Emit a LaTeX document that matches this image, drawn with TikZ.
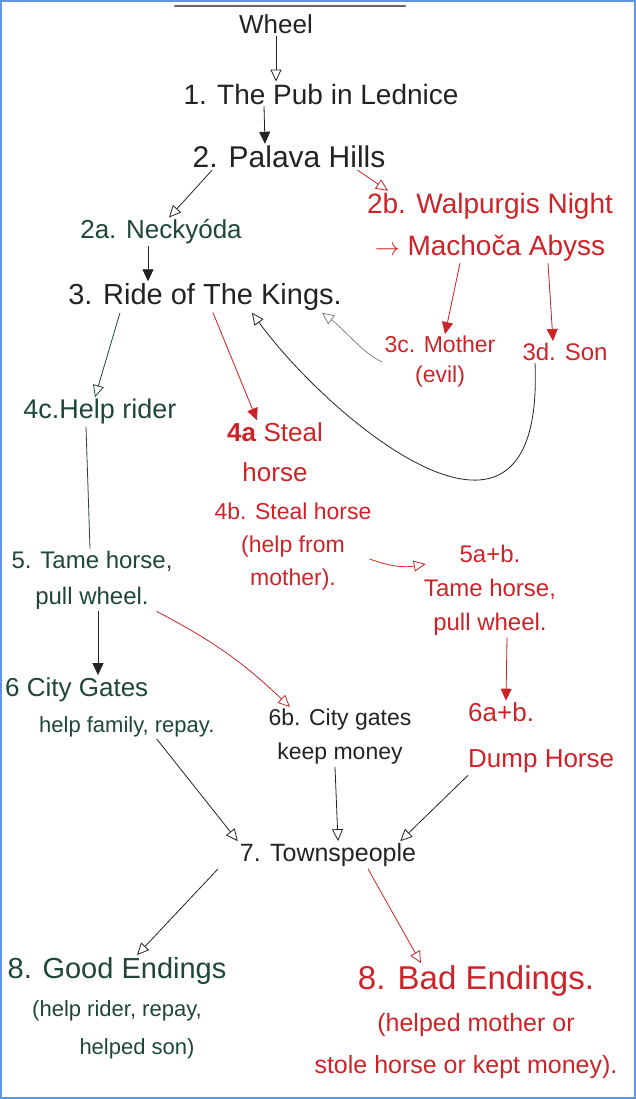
\documentclass[tikz,border=0pt]{standalone}
\usepackage{fontspec}
\setmainfont{Liberation Sans}
\usetikzlibrary{arrows.meta}

\definecolor{ink}{RGB}{35,35,35}
\definecolor{inkgreen}{RGB}{30,70,58}
\definecolor{inkred}{RGB}{205,35,40}
\definecolor{framecol}{RGB}{95,150,220}

\tikzset{
  f/.style args={#1/#2}{font=\fontsize{#1}{#2}\selectfont},
  hand/.style={align=center, inner sep=2pt},
  blk/.style={hand, text=ink},
  grn/.style={hand, text=inkgreen},
  rd/.style={hand, text=inkred},
  arr/.style={line width=0.8pt, draw=ink, -{Triangle[open,length=12pt,width=11pt]}},
  arrf/.style={line width=0.8pt, draw=ink, -{Triangle[length=12pt,width=11pt]}},
  rarr/.style={arr, draw=inkred},
  rarrf/.style={arrf, draw=inkred, fill=inkred},
}

\begin{document}
\begin{tikzpicture}[x=1pt, y=-1pt]
    \useasboundingbox (0,0) rectangle (636,1099);
    \draw[framecol, line width=2pt] (1,1) rectangle (635,1098);
    \draw[gray!80!black, line width=2.5pt, line cap=round] (175,6) -- (405,6);

    % story nodes
    \node[blk, f=26/30] (w) at (276,24) {Wheel};
    \node[blk, f=28/32] (p1) at (321,94) {1. The Pub in Lednice};
    \node[blk, f=30/34] (p2) at (289,157) {2. Palava Hills};
    \node[grn, f=26/30] (n2a) at (161,232) {2a. Neckyóda};
    \node[rd, f=28/42] (n2b) at (490,227) {2b. Walpurgis Night\\$\rightarrow$ Machoča Abyss};
    \node[blk, f=29/32] (n3) at (205,297) {3. Ride of The Kings.};
    \node[rd, f=23/30] (n3c) at (440,362) {3c. Mother\\(evil)};
    \node[rd, f=24/28] (n3d) at (565,352) {3d. Son};
    \node[grn, f=27/30] (n4c) at (100,412) {4c.Help rider};
    \node[rd, f=26/40] (n4a) at (275,452) {\textbf{4a} Steal\\horse};
    \node[rd, f=23/33] (n4b) at (293,547) {4b. Steal horse\\(help from\\mother).};
    \node[rd, f=24/34] (n5ab) at (490,590) {5a+b.\\Tame horse,\\pull wheel.};
    \node[grn, f=24/36] (n5) at (92,580) {5. Tame horse,\\pull wheel.};
    \node[grn, f=26/36, align=left, anchor=west] (n6) at (3,707) {6 City Gates\\\hspace*{34pt}{\fontsize{22}{26}\selectfont help family, repay.}};
    \node[blk, f=23/34] (n6b) at (340,737) {6b. City gates\\keep money};
    \node[rd, f=26/46, align=left, anchor=west] (n6ab) at (466,738) {6a+b.\\Dump Horse};
    \node[blk, f=25/30] (n7) at (328,855) {7. Townspeople};
    \node[grn, f=29/38] (n8g) at (117,1008) {8. Good Endings\\{\fontsize{22}{30}\selectfont (help rider, repay,}\\{\fontsize{22}{30}\selectfont \hspace*{40pt}helped son)}};
    \node[rd, f=33/42] (n8b) at (466,1022) {\hspace*{20pt}8. Bad Endings.\\{\fontsize{25}{30}\selectfont \hspace*{20pt}(helped mother or}\\{\fontsize{25}{30}\selectfont stole horse or kept money).}};

    % connectors
    \draw[arr] (w.south) -- ([xshift=-45pt]p1.north);
    \draw[arrf, fill=ink] ([xshift=-57pt]p1.south) -- ([xshift=-24pt]p2.north);
    \draw[arr] ([xshift=-77pt]p2.south) -- ([xshift=8pt]n2a.north);
    \draw[rarr] ([xshift=-30pt]p2.south east) -- ([xshift=-102pt]n2b.north);
    \draw[arrf, fill=ink] ([xshift=-13pt]n2a.south) -- ([xshift=-57pt]n3.north);
    \draw[rarrf] ([xshift=-30pt]n2b.south) -- ([xshift=5pt]n3c.north);
    \draw[rarrf] ([xshift=58pt]n2b.south) -- ([xshift=-12pt]n3d.north);
    \draw[arr, draw=gray] (n3c.west) .. controls (365,355) and (345,330) .. ([xshift=-22pt]n3.south east);
    \draw[arr] ([xshift=-30pt]n3d.south) .. controls (545,600) and (330,420) .. ([xshift=-92pt]n3.south east);
    \draw[arr, draw=inkgreen] ([xshift=-85pt]n3.south) -- ([xshift=-5pt]n4c.north);
    \draw[rarrf] ([xshift=8pt]n3.south) -- ([xshift=-18pt]n4a.north);
    \draw[line width=0.8pt, inkgreen] ([xshift=-14pt]n4c.south) -- ([xshift=-2pt]n5.north);
    \draw[rarr] ([xshift=-4pt, yshift=-12pt]n4b.east) to[bend right=15] ([xshift=4pt, yshift=26pt]n5ab.west);
    \draw[arrf, fill=ink] ([xshift=6pt]n5.south) -- ([xshift=95pt]n6.north west);
    \draw[rarr] ([xshift=-18pt]n5.south east) to[bend left=8] ([xshift=-50pt]n6b.north);
    \draw[rarrf] ([xshift=17pt]n5ab.south) -- ([xshift=40pt]n6ab.north west);
    \draw[arr] ([xshift=-60pt]n6.south east) -- (n7.north west);
    \draw[arr] ([xshift=-5pt]n6b.south) -- ([xshift=10pt]n7.north);
    \draw[arr] ([xshift=2pt]n6ab.south west) -- ([xshift=-18pt]n7.north east);
    \draw[arr] ([xshift=-110pt]n7.south) -- ([xshift=20pt]n8g.north);
    \draw[rarr] ([xshift=40pt]n7.south) -- ([xshift=-45pt]n8b.north);
  \end{tikzpicture}
\end{document}
